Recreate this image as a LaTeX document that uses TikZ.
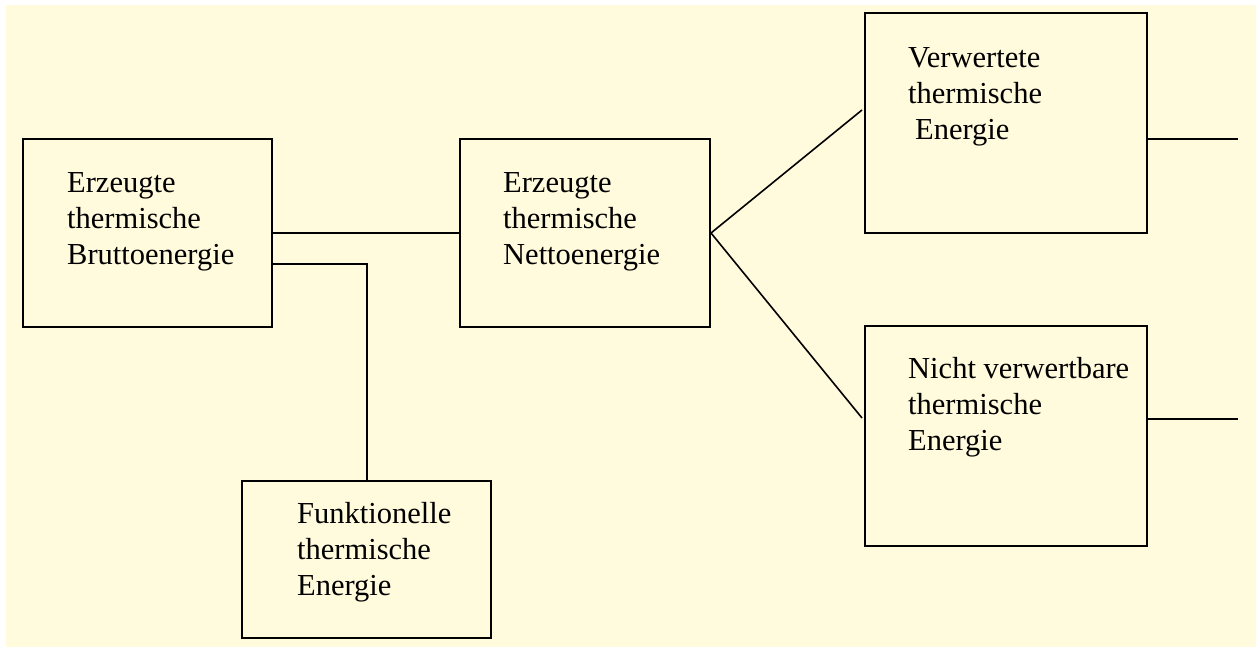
\documentclass[tikz,border=0pt]{standalone}
\usepackage{fontspec}
\setmainfont{Liberation Serif}
\definecolor{cream}{RGB}{255,251,220}
\tikzset{
  kasten/.style={draw, line width=2.0pt, inner sep=0pt, fill=cream},
  beschr/.style={anchor=north west, inner sep=0pt, align=left,
                 font=\fontsize{30.5}{36}\selectfont},
  linie/.style={line width=2.0pt},
}

\begin{document}
\begin{tikzpicture}[x=1pt, y=-1pt, line cap=butt, line join=miter]
  %% ════ 底色：左、上各留一条白边 ════
  \fill[white] (0,0) rectangle (1256,647);
  \fill[cream] (6,5) rectangle (1256,647);

  %% ════ 方框（中心 + 宽高由原图量得，边落在整像素上）════
  \node[kasten, minimum width=249, minimum height=188] (bA) at (147.5,233.0) {};
  \node[kasten, minimum width=250, minimum height=188] (bB) at (585.0,233.0) {};
  \node[kasten, minimum width=282, minimum height=220] (bC) at (1006.0,123.0) {};
  \node[kasten, minimum width=282, minimum height=220] (bD) at (1006.0,436.0) {};
  \node[kasten, minimum width=249, minimum height=157] (bE) at (366.5,559.5) {};

  %% ════ 文字（左上角对齐）════
  \node[beschr] (tA) at (67,172) {Erzeugte\\thermische\\Bruttoenergie};
  \node[beschr] (tB) at (503,172) {Erzeugte\\thermische\\Nettoenergie};
  \node[beschr] (tC) at (908,47) {Verwertete\\thermische\\\hspace*{7pt}Energie};
  \node[beschr] (tD) at (908,357) {Nicht verwertbare\\thermische\\Energie};
  \node[beschr] (tE) at (297,502) {Funktionelle\\thermische\\Energie};

  %% ════ 自由端 ════
  \coordinate (fC) at (862,110);
  \coordinate (fD) at (862,418);
  \coordinate (oC) at (1238,139);
  \coordinate (oD) at (1238,419);

  %% ════ 连线 ════
  \draw[linie] (bA.east) -- (bB.west);
  \draw[linie] ([yshift=-31pt]bA.east) -| (bE.north);
  \draw[line width=1.6pt] (bB.east) -- (fC);
  \draw[line width=1.6pt] (bB.east) -- (fD);
  \draw[linie] (oC -| bC.east) -- (oC);
  \draw[linie] (oD -| bD.east) -- (oD);

  \pgfresetboundingbox
  \path[use as bounding box] (0,0) rectangle (1256,647);
\end{tikzpicture}
\end{document}
